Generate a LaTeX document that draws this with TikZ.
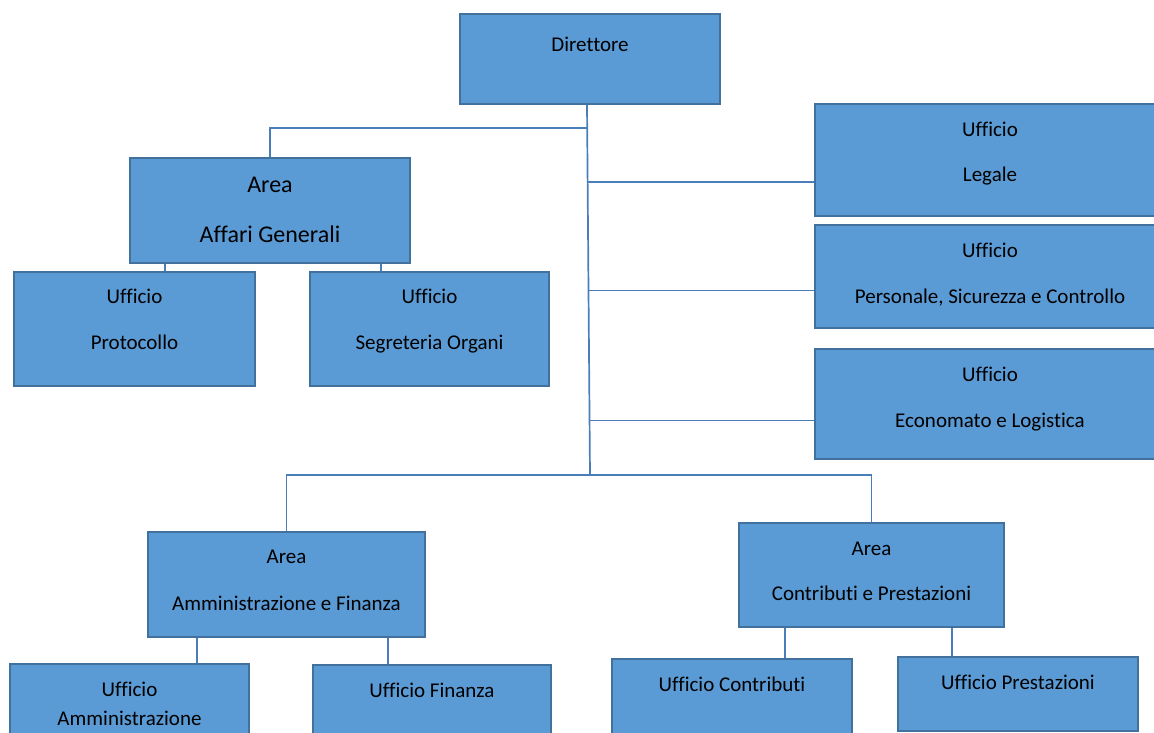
\documentclass[tikz,border=0pt]{standalone}
\usepackage{fontspec}
\setmainfont{Carlito}[Ligatures={NoCommon}]
\definecolor{boxfill}{HTML}{5B9BD5}
\definecolor{boxline}{HTML}{41719C}
\definecolor{connc}{HTML}{4A7EBB}
\begin{document}
\begin{tikzpicture}[x=1pt,y=-1pt,
  orgbox/.style={draw=boxline, fill=boxfill, line width=2.4pt, inner sep=0pt},
  lbl/.style={font=\fontsize{21}{25}\selectfont, text=black, inner sep=0pt, anchor=base},
  biglbl/.style={lbl, font=\fontsize{24}{28}\selectfont},
  connector/.style={draw=connc, line width=1.7pt}]
\useasboundingbox (0,0) rectangle (1154,733);

% boxes
\node[orgbox, minimum width=260pt, minimum height=90pt]  (dir)  at (590,59)    {};
\node[orgbox, minimum width=280pt, minimum height=105pt] (ag)   at (270,210.5) {};
\node[orgbox, minimum width=241pt, minimum height=114pt] (prot) at (134.5,329) {};
\node[orgbox, minimum width=239pt, minimum height=114pt] (seg)  at (429.5,329) {};
\node[orgbox, minimum width=350pt, minimum height=112pt] (leg)  at (990,160)   {};
\node[orgbox, minimum width=350pt, minimum height=103pt] (pers) at (990,276.5) {};
\node[orgbox, minimum width=350pt, minimum height=110pt] (eco)  at (990,404)   {};
\node[orgbox, minimum width=277pt, minimum height=105pt] (af)   at (286.5,584.5) {};
\node[orgbox, minimum width=265pt, minimum height=104pt] (cp)   at (871.5,575) {};
\node[orgbox, minimum width=239pt, minimum height=96pt]  (amm)  at (129.5,712) {};
\node[orgbox, minimum width=238pt, minimum height=95pt]  (fin)  at (432,712.5) {};
\node[orgbox, minimum width=240pt, minimum height=101pt] (con)  at (732,709.5) {};
\node[orgbox, minimum width=240pt, minimum height=74pt]  (pre)  at (1018,694)  {};

% texts
\node[lbl] (dirT) at (590,52) {Direttore};
\node[biglbl] (agT1) at (270,192) {Area};
\node[biglbl] (agT2) at (270,242) {Affari Generali};
\node[lbl] (protT1) at (134.5,303) {Ufficio};
\node[lbl] (protT2) at (134.5,349) {Protocollo};
\node[lbl] (segT1) at (429.5,303) {Ufficio};
\node[lbl] (segT2) at (429.5,349) {Segreteria Organi};
\node[lbl] (legT1) at (990,137) {Ufficio};
\node[lbl] (legT2) at (990,182) {Legale};
\node[lbl] (persT1) at (990,257) {Ufficio};
\node[lbl] (persT2) at (990,303) {Personale, Sicurezza e Controllo};
\node[lbl] (ecoT1) at (990,381) {Ufficio};
\node[lbl] (ecoT2) at (990,427) {Economato e Logistica};
\node[lbl] (afT1) at (286.5,563) {Area};
\node[lbl] (afT2) at (286.5,610) {Amministrazione e Finanza};
\node[lbl] (cpT1) at (871.5,555) {Area};
\node[lbl] (cpT2) at (871.5,600) {Contributi e Prestazioni};
\node[lbl] (ammT1) at (129.5,696) {Ufficio};
\node[lbl] (ammT2) at (129.5,725) {Amministrazione};
\node[lbl] (finT) at (432,697) {Ufficio Finanza};
\node[lbl] (conT) at (732,691) {Ufficio Contributi};
\node[lbl] (preT) at (1018,689) {Ufficio Prestazioni};

% junctions
\coordinate (jtop) at (587,128);
\coordinate (jleg) at (588,182);
\coordinate (jpers) at (588.5,290.5);
\coordinate (jeco) at (589,420.5);
\coordinate (jbot) at (590,475);

% connectors
\draw[connector] (dir.south -| jtop) -- (jbot);
\draw[connector] (jtop) -| (ag.north);
\draw[connector] (jleg) -- (jleg -| leg.west);
\draw[connector] (jpers) -- (jpers -| pers.west);
\draw[connector] (jeco) -- (jeco -| eco.west);
\draw[connector] (af.north) |- (jbot) -| (cp.north);
\draw[connector] (ag.south -| 165,0) -- (prot.north -| 165,0);
\draw[connector] (ag.south -| 381,0) -- (seg.north -| 381,0);
\draw[connector] (af.south -| 197,0) -- (amm.north -| 197,0);
\draw[connector] (af.south -| 388,0) -- (fin.north -| 388,0);
\draw[connector] (cp.south -| 785,0) -- (con.north -| 785,0);
\draw[connector] (cp.south -| 952,0) -- (pre.north -| 952,0);
\end{tikzpicture}
\end{document}
